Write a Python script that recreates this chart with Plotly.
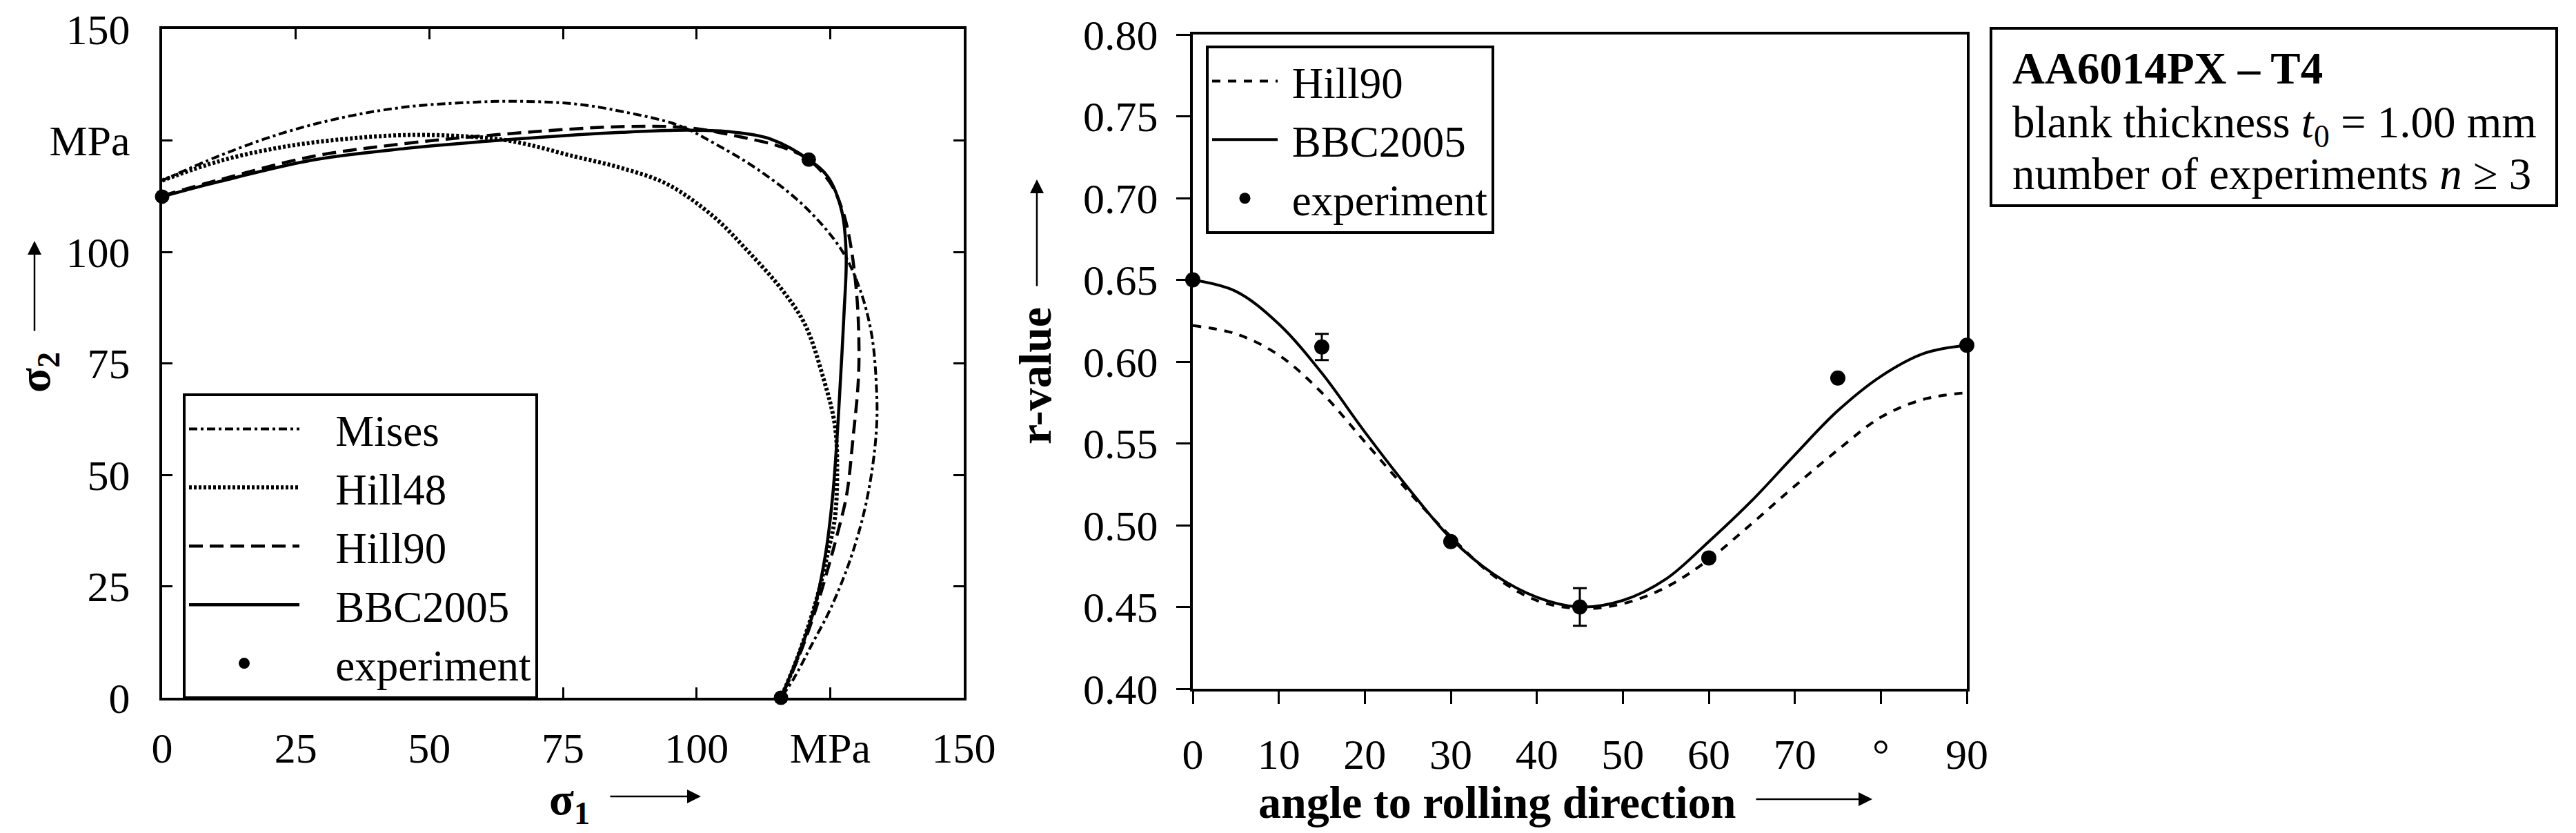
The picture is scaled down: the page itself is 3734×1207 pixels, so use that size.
import plotly.graph_objects as go

# ---- left panel: yield loci in the first quadrant (MPa) ----
mises_s1 = [0, 10.8, 22.4, 34.0, 45.5, 57.0, 65.6, 77.2, 86.0, 96.6, 103.1, 111.7, 120.3,
            127.2, 130.6, 132.8, 133.7, 133.7, 132.8, 131.1, 128.5, 125.0, 121.6, 118.2, 115.8]
mises_s2 = [116.0, 121.6, 126.6, 130.2, 132.5, 133.5, 133.8, 133.2, 131.5, 128.4, 124.5, 118.3, 110.1,
            100.3, 91.5, 81.2, 68.6, 61.0, 50.7, 40.4, 30.1, 19.8, 12.0, 4.3, 0]

hill48_s1 = [0, 10.8, 22.4, 34.0, 45.5, 57.0, 65.6, 77.2, 86.0, 94.5, 103.1, 109.5, 116.0,
             120.3, 123.8, 125.9, 126.3, 125.9, 124.6, 122.5, 119.0, 115.8]
hill48_s2 = [116.0, 120.4, 123.5, 125.3, 126.2, 125.9, 124.8, 121.4, 118.8, 115.2, 108.0, 100.3, 91.5,
             83.7, 71.4, 61.0, 50.8, 40.4, 32.7, 22.3, 9.4, 0]

hill90_s1 = [0, 10.8, 28.1, 45.5, 62.8, 85.9, 98.8, 107.4, 116.0, 121.0, 125.0, 127.4, 128.8,
             130.0, 130.4, 130.2, 129.3, 128.1, 126.3, 124.6, 122.3, 119.2, 115.8]
hill90_s2 = [112.6, 116.2, 121.4, 124.3, 126.3, 128.1, 127.8, 126.0, 123.5, 120.7, 115.5, 109.0, 101.8,
             90.0, 78.0, 69.8, 58.5, 45.6, 36.5, 29.0, 19.8, 9.4, 0]

bbc_s1 = [0, 10.8, 28.1, 45.5, 62.8, 85.9, 98.8, 107.4, 113.9, 121.0, 124.6, 127.2, 128.0,
          127.6, 126.8, 126.3, 125.5, 124.2, 122.0, 119.0, 115.8]
bbc_s2 = [112.4, 115.8, 120.6, 123.2, 125.0, 126.8, 127.3, 126.8, 125.3, 120.7, 116.8, 109.0, 99.2,
          86.3, 68.6, 58.5, 45.6, 32.7, 19.8, 9.4, 0]

exp_s1 = [0, 121.0, 115.8]
exp_s2 = [112.4, 120.7, 0]

stress_ticks = [0, 25, 50, 75, 100, 125, 150]
stress_text = ["0", "25", "50", "75", "100", "MPa", "150"]

# ---- right panel: r-value vs angle to rolling direction ----
model_angle = [0, 5, 10, 15, 20, 25, 30, 35, 40, 45, 50, 55, 60, 65, 70, 75, 80, 85, 90]
bbc_r = [0.650, 0.643, 0.623, 0.593, 0.557, 0.523, 0.492, 0.470, 0.456, 0.450, 0.454, 0.467,
         0.490, 0.515, 0.543, 0.570, 0.591, 0.605, 0.610]
hill90_r = [0.622, 0.617, 0.604, 0.581, 0.551, 0.521, 0.493, 0.469, 0.454, 0.449, 0.452, 0.462,
            0.479, 0.501, 0.524, 0.546, 0.566, 0.577, 0.581]

exp_angle = [0, 15, 30, 45, 60, 75, 90]
exp_r = [0.650, 0.609, 0.490, 0.450, 0.480, 0.590, 0.610]
exp_r_err = [0, 0.008, 0, 0.0115, 0, 0, 0]

angle_ticks = [0, 10, 20, 30, 40, 50, 60, 70, 80, 90]
angle_text = ["0", "10", "20", "30", "40", "50", "60", "70", "°", "90"]
r_ticks = [0.40, 0.45, 0.50, 0.55, 0.60, 0.65, 0.70, 0.75, 0.80]

W, H = 3734, 1207
FONT = "Liberation Serif"
NB = "\u00a0"


def px_x(p):
    return p / W


def px_y(p):
    return 1 - p / H


fig = go.Figure()

# left panel curves
fig.add_trace(go.Scatter(x=mises_s1, y=mises_s2, mode="lines", name=NB * 3 + "Mises", legend="legend",
                         line=dict(color="black", width=4, dash="12px,5px,4px,5px", shape="spline"),
                         xaxis="x", yaxis="y", cliponaxis=False))
fig.add_trace(go.Scatter(x=hill48_s1, y=hill48_s2, mode="lines", name=NB * 3 + "Hill48", legend="legend",
                         line=dict(color="black", width=6, dash="4px,3px", shape="spline"),
                         xaxis="x", yaxis="y", cliponaxis=False))
fig.add_trace(go.Scatter(x=hill90_s1, y=hill90_s2, mode="lines", name=NB * 3 + "Hill90", legend="legend",
                         line=dict(color="black", width=4.5, dash="20px,10px", shape="spline"),
                         xaxis="x", yaxis="y", cliponaxis=False))
fig.add_trace(go.Scatter(x=bbc_s1, y=bbc_s2, mode="lines", name=NB * 3 + "BBC2005", legend="legend",
                         line=dict(color="black", width=4.5, shape="spline"),
                         xaxis="x", yaxis="y", cliponaxis=False))
fig.add_trace(go.Scatter(x=exp_s1, y=exp_s2, mode="markers", name=NB * 3 + "experiment", legend="legend",
                         marker=dict(color="black", size=21),
                         xaxis="x", yaxis="y", cliponaxis=False))

# right panel curves
fig.add_trace(go.Scatter(x=model_angle, y=hill90_r, mode="lines", name=NB + "Hill90", legend="legend2",
                         line=dict(color="black", width=4, dash="12px,11px", shape="spline"),
                         xaxis="x2", yaxis="y2", cliponaxis=False))
fig.add_trace(go.Scatter(x=model_angle, y=bbc_r, mode="lines", name=NB + "BBC2005", legend="legend2",
                         line=dict(color="black", width=4, shape="spline"),
                         xaxis="x2", yaxis="y2", cliponaxis=False))
fig.add_trace(go.Scatter(x=exp_angle, y=exp_r, mode="markers", name=NB + "experiment", legend="legend2",
                         marker=dict(color="black", size=22),
                         error_y=dict(type="data", array=exp_r_err, color="black", thickness=3, width=10),
                         xaxis="x2", yaxis="y2", cliponaxis=False))

tickfont = dict(family=FONT, size=62, color="black")
axis_common = dict(showgrid=False, zeroline=False, showline=True, linecolor="black",
                   linewidth=4, tickfont=tickfont, tickcolor="black", automargin=False)

fig.update_layout(
    width=W, height=H,
    margin=dict(l=0, r=0, t=0, b=0),
    paper_bgcolor="white", plot_bgcolor="white",
    font=dict(family=FONT, color="black"),
    xaxis=dict(domain=[px_x(235), px_x(1397)], range=[0, 150], tickvals=stress_ticks,
               ticktext=stress_text, ticks="inside", ticklen=15, tickwidth=3, mirror="ticks",
               ticklabelstandoff=16, anchor="y", **axis_common),
    yaxis=dict(domain=[px_y(1011), px_y(42)], range=[0, 150], tickvals=stress_ticks,
               ticktext=stress_text, ticks="inside", ticklen=15, tickwidth=3, mirror="ticks",
               ticklabelstandoff=30, anchor="x", **axis_common),
    xaxis2=dict(domain=[px_x(1729), px_x(2851)], range=[0, 90], tickvals=angle_ticks,
                ticktext=angle_text, ticks="outside", ticklen=18, tickwidth=3, mirror=True,
                ticklabelstandoff=20, anchor="y2", **axis_common),
    yaxis2=dict(domain=[px_y(998), px_y(50)], range=[0.40, 0.80], tickvals=r_ticks,
                tickformat=".2f", ticks="outside", ticklen=20, tickwidth=3, mirror=True,
                ticklabelstandoff=14, anchor="x2", **axis_common),
    legend=dict(x=px_x(265), y=px_y(570), xanchor="left", yanchor="top",
                bordercolor="black", borderwidth=4, bgcolor="white",
                font=dict(family=FONT, size=63, color="black"), itemwidth=160,
                tracegroupgap=0),
    legend2=dict(x=px_x(1748), y=px_y(66), xanchor="left", yanchor="top",
                 bordercolor="black", borderwidth=4, bgcolor="white",
                 font=dict(family=FONT, size=63, color="black"), itemwidth=95,
                 tracegroupgap=0),
    showlegend=True,
)

title_font = dict(family=FONT, size=66, color="black")
titles = [
    dict(text="<b>σ<sub>2</sub></b>", x=px_x(54), y=px_y(540), textangle=-90),
    dict(text="<b>σ<sub>1</sub></b>", x=px_x(825), y=px_y(1162)),
    dict(text="<b>r-value</b>", x=px_x(1501), y=px_y(545), textangle=-90),
    dict(text="<b>angle to rolling direction</b>", x=px_x(2170), y=px_y(1162)),
]
for a in titles:
    fig.add_annotation(xref="paper", yref="paper", showarrow=False, font=title_font,
                       xanchor="center", yanchor="middle", **a)

# axis-direction arrows (head position, tail offset in px)
arrows = [
    (50, 349, 0, 132),
    (1016, 1154, -133, 0),
    (1503, 260, 0, 156),
    (2714, 1158, -170, 0),
]
for hx, hy, ax, ay in arrows:
    fig.add_annotation(text="", xref="paper", yref="paper", x=px_x(hx), y=px_y(hy),
                       ax=ax, ay=ay, showarrow=True, arrowhead=2, arrowsize=1.6,
                       arrowwidth=2.5, arrowcolor="black", standoff=0)

# info box
fig.add_shape(type="rect", xref="paper", yref="paper",
              x0=px_x(2886), x1=px_x(3706), y0=px_y(298), y1=px_y(41),
              line=dict(color="black", width=4), fillcolor="white")
info_lines = [
    ("<b>AA6014PX – T4</b>", 99),
    ("blank thickness <i>t</i><sub>0</sub> = 1.00 mm", 182),
    ("number of experiments <i>n</i> ≥ 3", 252),
]
for txt, yy in info_lines:
    fig.add_annotation(text=txt, xref="paper", yref="paper", x=px_x(2915), y=px_y(yy),
                       xanchor="left", yanchor="middle", showarrow=False,
                       font=dict(family=FONT, size=65, color="black"))

fig.write_html("out.html", config={"displayModeBar": False},
               post_script="document.body.style.margin='0';document.body.style.overflow='hidden';")
